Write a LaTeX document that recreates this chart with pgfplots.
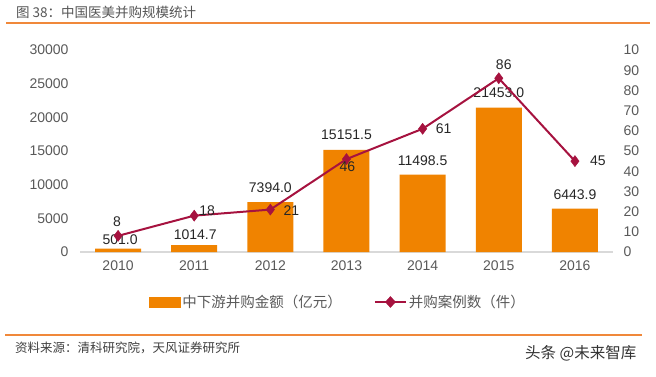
\documentclass[border=0pt]{standalone}
\usepackage{pgfplots}
\pgfplotsset{compat=1.18}
\usepackage{pgfplotstable}
\usepackage{fontspec}
\setmainfont{Liberation Sans}
\newfontfamily\cjk{Noto Sans CJK SC}
\definecolor{barorange}{HTML}{F08300}
\definecolor{linered}{HTML}{A6123F}
\definecolor{ruleorange}{HTML}{F0883A}
\definecolor{tickgray}{HTML}{595959}
\definecolor{titlegray}{HTML}{555555}
\definecolor{axisgray}{HTML}{D9D9D9}
\definecolor{labelgray}{HTML}{262626}

\pgfplotstableread{
x y lab dx dy
0 501.0 501.0 2 8.6
1 1014.7 1014.7 1 10
2 7394.0 7394.0 0 15
3 15151.5 15151.5 0 15
4 11498.5 11498.5 0 13.6
5 21453.0 21453.0 0 14.5
6 6443.9 6443.9 0 13.6
}\amount

\pgfplotstableread{
x y lab dx dy
0 8 8 -1 14
1 18 18 13 5
2 21 21 21 -1
3 46 46 1 -8
4 61 61 21 0
5 86 86 5 14
6 45 45 23 0
}\cases

\begin{document}
\begin{tikzpicture}[x=1pt,y=1pt]
\useasboundingbox (0,0) rectangle (656,376);
% header
\node[anchor=west, inner sep=0pt, text=titlegray, font=\cjk\fontsize{13.5}{15}\selectfont] at (16,364) {图 38：中国医美并购规模统计};
\draw[ruleorange, line width=1.3pt] (6,353) -- (650,353);
% footer
\draw[ruleorange, line width=1.3pt] (5,41) -- (642,41);
\node[anchor=west, inner sep=0pt, text=black!75, font=\cjk\fontsize{12.5}{14}\selectfont] at (15,28) {资料来源：清科研究院，天风证券研究所};
\node[anchor=west, inner sep=0pt, text=black!80, font=\cjk\fontsize{15.5}{17}\selectfont] at (525,23) {头条 @未来智库};

\begin{axis}[
  at={(80pt,124pt)}, anchor=south west,
  scale only axis, width=533pt, height=202pt,
  xmin=-0.5, xmax=6.5, ymin=0, ymax=30000,
  axis x line*=bottom, axis y line*=left,
  x axis line style={draw=axisgray, line width=1.3pt, -},
  y axis line style={draw=none},
  major tick length=0pt, tick style={draw=none},
  xtick={0,...,6}, xticklabels={2010,2011,2012,2013,2014,2015,2016},
  ytick={0,5000,...,30000},
  scaled y ticks=false,
  /pgf/number format/assume math mode=true,
  /pgf/number format/set thousands separator={},
  tick label style={text=tickgray, font=\fontsize{14}{16}\selectfont},
  yticklabel style={xshift=-8pt},
  xticklabel style={yshift=-5pt},
  clip=false,
]
\addplot[ybar, bar width=46pt, bar shift=0pt, fill=barorange, draw=none,
  nodes near coords, point meta=explicit symbolic,
  visualization depends on={\thisrow{dx} \as \ldx},
  visualization depends on={\thisrow{dy} \as \ldy},
  every node near coord/.append style={anchor=center, inner sep=0pt, xshift=\ldx pt, yshift=\ldy pt, text=labelgray, font=\fontsize{14}{16}\selectfont}]
  table[x=x, y=y, meta=lab] {\amount};
\end{axis}

\begin{axis}[
  at={(80pt,124pt)}, anchor=south west,
  scale only axis, width=533pt, height=202pt,
  xmin=-0.5, xmax=6.5, ymin=0, ymax=100,
  axis x line=none, axis y line*=right,
  y axis line style={draw=none},
  major tick length=0pt, tick style={draw=none},
  ytick={0,10,...,100}, yticklabels={0,10,20,30,40,50,60,70,80,90,10},
  yticklabel style={anchor=west, xshift=7pt, text=tickgray, font=\fontsize{14}{16}\selectfont},
  clip=false,
  legend style={at={(0.484,-0.2475)}, anchor=center, draw=none, fill=none,
    font=\cjk\fontsize{14.5}{16}\selectfont, text=tickgray, inner sep=0pt,
    nodes={inner sep=2pt},
    /tikz/every even column/.append style={column sep=30pt}},
  legend columns=2, legend cell align=left,
]
\addlegendimage{legend image code/.code={\fill[barorange] (0pt,-5pt) rectangle (31pt,5pt);}}
\addlegendentry{中下游并购金额（亿元）}
\addlegendimage{legend image code/.code={\draw[linered, line width=2pt] (0pt,0pt) -- (31pt,0pt); \fill[linered] (15.5pt,5.5pt) -- (20.5pt,0pt) -- (15.5pt,-5.5pt) -- (10.5pt,0pt) -- cycle;}}
\addlegendentry{并购案例数（件）}
\addplot[forget plot, linered, line width=2pt, mark=diamond*, mark size=5.5pt,
  mark options={fill=linered, draw=linered, line width=0.5pt},
  nodes near coords, point meta=explicit symbolic,
  visualization depends on={\thisrow{dx} \as \ldx},
  visualization depends on={\thisrow{dy} \as \ldy},
  every node near coord/.append style={anchor=center, inner sep=0pt, xshift=\ldx pt, yshift=\ldy pt, text=labelgray, font=\fontsize{14}{16}\selectfont}]
  table[x=x, y=y, meta=lab] {\cases};
\end{axis}
\end{tikzpicture}
\end{document}
